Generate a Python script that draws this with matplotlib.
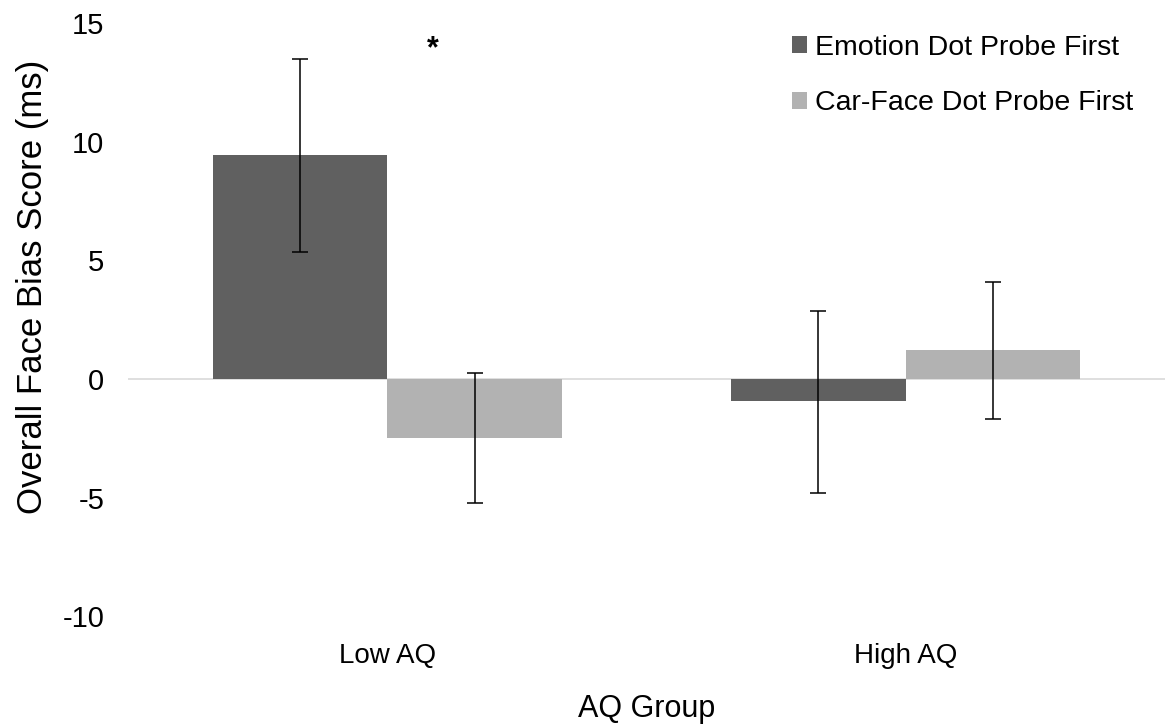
import matplotlib
matplotlib.use("Agg")
import matplotlib.pyplot as plt
import numpy as np

groups = ["Low AQ", "High AQ"]
series_names = ["Emotion Dot Probe First", "Car-Face Dot Probe First"]
emotion_vals = [9.45, -0.93]
carface_vals = [-2.49, 1.22]
emotion_err_hi = [13.5, 2.87]
emotion_err_lo = [5.36, -4.81]
carface_err_hi = [0.25, 4.09]
carface_err_lo = [-5.23, -1.69]
yticks = [-10, -5, 0, 5, 10, 15]

plt.rcParams['font.family'] = ['Liberation Sans', 'DejaVu Sans']

fig = plt.figure(figsize=(11.68, 7.24), dpi=100)
ax = fig.add_axes([0.1096, 0.149, 0.8878, 0.819])

x = np.arange(len(groups))
w = 0.337
colors = ["#606060", "#b2b2b2"]
vals = [emotion_vals, carface_vals]
his = [emotion_err_hi, carface_err_hi]
los = [emotion_err_lo, carface_err_lo]
offsets = [-w/2, w/2]
for v, hi, lo, c, off, name in zip(vals, his, los, colors, offsets, series_names):
    v = np.array(v); hi = np.array(hi); lo = np.array(lo)
    ax.bar(x + off, v, w, color=c, label=name, zorder=2)
    ax.errorbar(x + off, v, yerr=[v - lo, hi - v], fmt='none', ecolor='black',
                elinewidth=1.1, capsize=6, capthick=1.1, zorder=3)

ax.axhline(0, color="#d9d9d9", lw=1.2, zorder=1)
ax.set_xlim(-0.5, 1.5)
ax.set_ylim(-10, 15)
ax.set_yticks(yticks)
ax.set_yticklabels([str(t) for t in yticks], fontsize=21)
ax.set_xticks(x)
ax.set_xticklabels(groups, fontsize=20)
ax.tick_params(axis='both', length=0)
ax.tick_params(axis='x', pad=19)
ax.tick_params(axis='y', pad=17)
for s in ax.spines.values():
    s.set_visible(False)
ax.set_xlabel("AQ Group", fontsize=22, labelpad=18)
ax.set_ylabel("Overall Face Bias Score (ms)", fontsize=25)
ax.yaxis.set_label_coords(-0.076, 0.555)

ax.text(0.088, 13.9, "*", fontsize=22, ha='center', va='center', fontweight='bold')

leg = ax.legend(loc='upper right', bbox_to_anchor=(0.98, 1.0), frameon=False, fontsize=20.5,
                handlelength=0.55, handleheight=0.55, handletextpad=0.25, labelspacing=1.05,
                borderaxespad=0)

fig.savefig("out.png", dpi=100)
